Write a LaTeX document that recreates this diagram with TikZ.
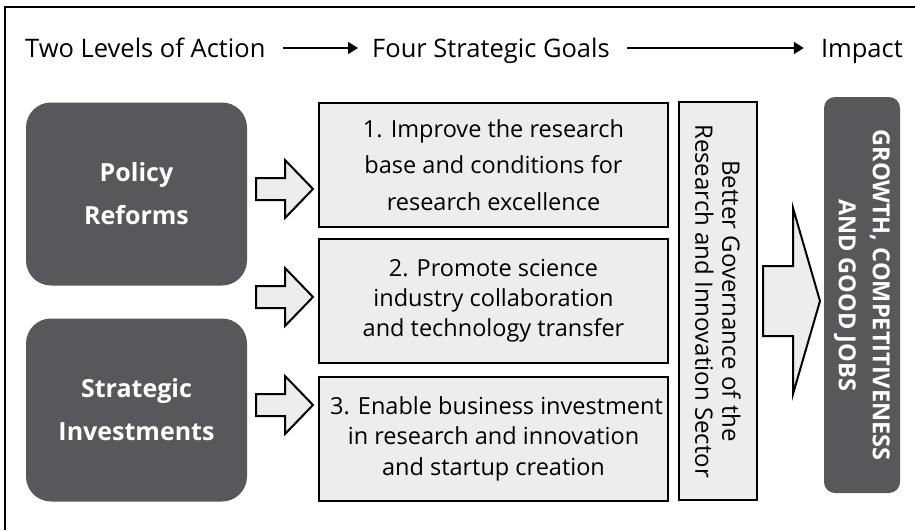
\documentclass[tikz,border=0pt]{standalone}
\usepackage{fontspec}
\setmainfont{Open Sans}
\usetikzlibrary{arrows.meta}
\definecolor{darkbox}{HTML}{58585A}
\definecolor{lightbox}{HTML}{ECEDEC}
\newcommand{\blockarr}[6]{\draw[blk] (#1,#4-#5) -- (#2,#4-#5) -- (#2,#4-#6) -- (#3,#4) -- (#2,#4+#6) -- (#2,#4+#5) -- (#1,#4+#5) -- cycle;}
\begin{document}
\begin{tikzpicture}[x=1pt,y=-1pt,
  hdr/.style={inner sep=0pt, font=\fontsize{25.5}{30}\selectfont},
  hdrarrow/.style={line width=1.6pt, -{Triangle[length=10pt,width=12pt]}},
  level/.style={fill=darkbox, rounded corners=25pt, minimum width=221pt, minimum height=183pt, inner sep=0pt, text=white, align=center, font=\bfseries\fontsize{25}{43}\selectfont},
  goal/.style={draw=black, line width=2pt, fill=lightbox, minimum width=349pt, minimum height=124pt, inner sep=0pt, align=center},
  gov/.style={draw=black, line width=2pt, fill=lightbox, minimum width=398pt, minimum height=78pt, inner sep=0pt, align=center, font=\fontsize{24}{27}\selectfont},
  impact/.style={fill=darkbox, rounded corners=11pt, minimum width=396pt, minimum height=76pt, inner sep=0pt, text=white, align=center, font=\bfseries\fontsize{23.5}{34}\selectfont},
  blk/.style={draw=black, line width=2pt, fill=lightbox, line join=miter}
]
\useasboundingbox (0,0) rectangle (915,530);
\draw[line width=2.5pt] (5,530) -- (5,7) -- (915,7);

\node[hdr, anchor=base west] (h1) at (25,57) {Two Levels of Action};
\node[hdr, anchor=base west] (h2) at (372,57) {Four Strategic Goals};
\node[hdr, anchor=base east] (h3) at (903,57) {Impact};
\draw[hdrarrow] ([xshift=17pt,yshift=9pt]h1.base east) -- ([xshift=-14pt,yshift=9pt]h2.base west);
\draw[hdrarrow] ([xshift=17pt,yshift=9pt]h2.base east) -- ([xshift=-17pt,yshift=9pt]h3.base west);

\node[level] (pol) at (136.5,194) {Policy\\Reforms};
\node[level] (inv) at (136.5,410) {Strategic\\Investments};

\node[goal, font=\fontsize{23.5}{36.7}\selectfont] (g1) at (493.5,165) {1. Improve the research\\base and conditions for\\research excellence};
\node[goal, font=\fontsize{23.5}{30}\selectfont] (g2) at (493.5,301) {2. Promote science\\industry collaboration\\and technology transfer};
\node[goal, font=\fontsize{23.5}{30.5}\selectfont] (g3) at (493.5,438.5) {\hspace*{6pt}3. Enable business investment\\in research and innovation\\and startup creation};

\blockarr{256}{285}{313}{189}{11}{29}
\blockarr{256}{285}{313}{297}{11}{29}
\blockarr{256}{285}{313}{405}{11}{29}

\node[gov, rotate=-90] (gov) at (718,301) {Better Governance of the\\Research and Innovation Sector};

\blockarr{763}{793}{820}{301}{35}{93}

\node[impact, rotate=-90] (imp) at (862,295) {GROWTH, COMPETITIVENESS\\AND GOOD JOBS};
\end{tikzpicture}
\end{document}
